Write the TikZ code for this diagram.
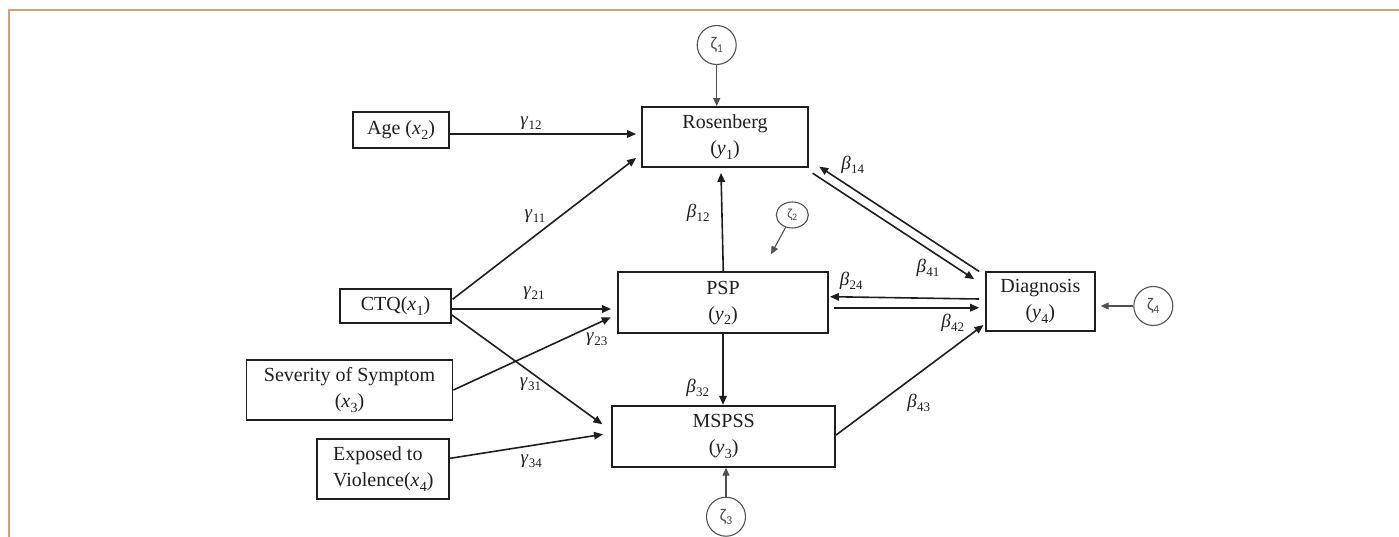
\documentclass[tikz,border=0pt]{standalone}
\usepackage{fontspec}
\setmainfont{Liberation Serif}
\newfontfamily\zetafont{Carlito}
\usetikzlibrary{arrows.meta,calc,shapes.geometric}
\definecolor{frameline}{RGB}{212,162,118}
\definecolor{ink}{RGB}{30,30,30}
\definecolor{errink}{RGB}{80,80,80}

% italic symbol with a lowered upright index
\newcommand\cf[2]{\textit{#1}\kern0.3pt\raisebox{-4pt}{\fontsize{13}{13}\selectfont #2}}
\newcommand\vx[2]{\textit{#1}\kern0.3pt\raisebox{-4.5pt}{\fontsize{14}{14}\selectfont #2}}
\newcommand\zt[1]{{\zetafont ζ}\raisebox{-3pt}{\zetafont\fontsize{12}{12}\selectfont #1}}

\begin{document}
\begin{tikzpicture}[x=1pt,y=-1pt,
  var/.style={draw=ink, line width=1.8pt, inner sep=0pt, align=center,
    font=\fontsize{20}{26}\selectfont, text=ink},
  err/.style={draw=errink, line width=1.1pt, circle, inner sep=0pt,
    minimum size=39pt, font=\fontsize{18}{20}\selectfont, text=errink},
  link/.style={draw=ink, line width=1.6pt, -{Triangle[length=9pt,width=7.5pt]}},
  errlink/.style={draw=errink, line width=1.1pt, -{Triangle[length=8pt,width=7pt]}},
  coef/.style={font=\fontsize{19}{20}\selectfont, text=ink, inner sep=0pt}
]
\useasboundingbox (0,0) rectangle (1399,537);

% frame lines along the top and left edges
\draw[frameline, line width=1.7pt] (8.7,537) -- (8.7,9.7) -- (1399,9.7);

% observed variables
\node[var, minimum width=166pt, minimum height=60pt] (ros) at (725,137) {Rosenberg\\(\vx{y}{1})};
\node[var, minimum width=96pt,  minimum height=36pt] (age) at (401,130) {Age (\vx{x}{2})};
\node[var, minimum width=111pt, minimum height=34pt] (ctq) at (395.5,306) {CTQ(\vx{x}{1})};
\node[var, minimum width=206pt, minimum height=60pt] (sev) at (349.5,390) {Severity of Symptom\\(\vx{x}{3})};
\node[var, minimum width=132pt, minimum height=60pt, align=left] (exp) at (383.3,469) {Exposed to\\Violence(\vx{x}{4})};
\node[var, minimum width=210pt, minimum height=61pt] (psp) at (723,302.8) {PSP\\(\vx{y}{2})};
\node[var, minimum width=223pt, minimum height=61pt] (msp) at (723.7,436.3) {MSPSS\\(\vx{y}{3})};
\node[var, minimum width=109pt, minimum height=59pt] (dia) at (1040.3,301.3) {Diagnosis\\(\vx{y}{4})};

% disturbance terms
\node[err] (z1) at (716.7,45) {\zt{1}};
\node[err, ellipse, minimum width=32pt, minimum height=26pt, font=\fontsize{14}{15}\selectfont] (z2) at (792.3,215) {{\zetafont ζ}\raisebox{-2.5pt}{\zetafont\fontsize{10}{10}\selectfont 2}};
\node[err] (z3) at (726,516.7) {\zt{3}};
\node[err] (z4) at (1153.3,306) {\zt{4}};
\coordinate (z2tip) at (771,254.3);

% disturbance paths
\draw[errlink] (z1) -- (z1 |- ros.north);
\draw[errlink] (z2) -- (z2tip);
\draw[errlink] (z3) -- (z3 |- msp.south);
\draw[errlink] (z4) -- ($(dia.east)+(5,4.7)$);

% structural paths from exogenous variables
\draw[link] ($(age.east)+(0,4)$) -- ($(ros.west)+(-5,-3)$);
\draw[link] ($(ctq.east)+(0.7,-6.7)$) -- ($(ros.south west)+(-5,-10)$);
\draw[link] ($(ctq.east)+(0,3)$) -- ($(psp.west)+(-6,6.2)$);
\draw[link] ($(ctq.east)+(0,9)$) -- ($(msp.west)+(-9,-12)$);
\draw[link] (sev.east) -- ($(psp.west)+(-6.3,14.5)$);
\draw[link] ($(exp.east)+(0,-10.7)$) -- ($(msp.west)+(-8.3,-2)$);

% paths among endogenous variables
\draw[link] ($(psp.north)+(0.3,0)$) -- ($(ros.south)+(-4,5)$);
\draw[link] (psp.south) -- (psp.south |- msp.north);
\draw[link] ($(msp.east)+(0,-1.3)$) -- ($(dia.south west)+(-1.4,-6.7)$);
\draw[link] ($(dia.north west)+(-5.7,0.6)$) -- ($(ros.south east)+(10.3,-1.3)$);
\draw[link] ($(ros.south east)+(3.7,5.3)$) -- ($(dia.north west)+(-10.7,8.3)$);
\draw[link] ($(dia.west)+(-5.7,-2.3)$) -- ($(psp.east)+(1,-6.1)$);
\draw[link] ($(psp.east)+(5,4.9)$) -- ($(dia.west)+(-5.7,6.4)$);

% path coefficients
\node[coef] (g12) at (531,123.5) {\cf{γ}{12}};
\node[coef] (g11) at (535,216.5) {\cf{γ}{11}};
\node[coef] (g21) at (534,293) {\cf{γ}{21}};
\node[coef] (g23) at (596.7,339.5) {\cf{γ}{23}};
\node[coef] (g31) at (530.5,384.7) {\cf{γ}{31}};
\node[coef] (g34) at (531.3,461) {\cf{γ}{34}};
\node[coef] (b12) at (698.3,213.3) {\cf{β}{12}};
\node[coef] (b14) at (852.7,165) {\cf{β}{14}};
\node[coef] (b41) at (928,268) {\cf{β}{41}};
\node[coef] (b24) at (851.3,281) {\cf{β}{24}};
\node[coef] (b42) at (952.8,323) {\cf{β}{42}};
\node[coef] (b32) at (697.7,387.5) {\cf{β}{32}};
\node[coef] (b43) at (918.7,403) {\cf{β}{43}};
\end{tikzpicture}
\end{document}
